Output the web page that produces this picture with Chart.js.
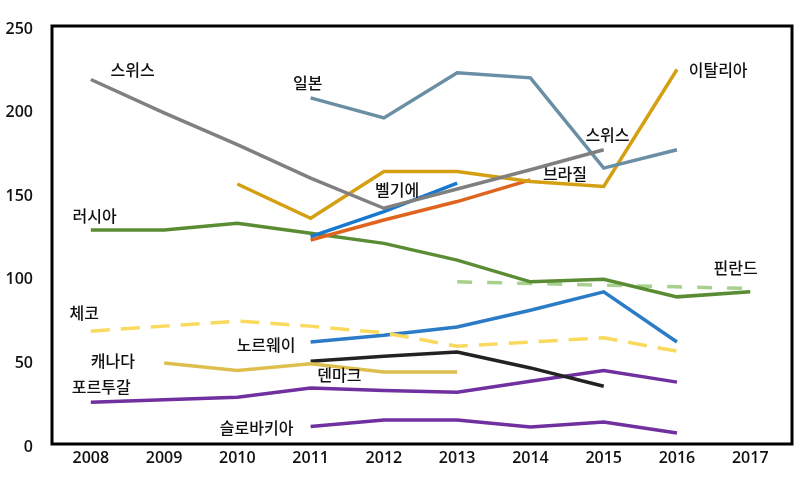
<!DOCTYPE html>
<html lang="ko">
<head>
<meta charset="utf-8">
<script src="https://cdn.jsdelivr.net/npm/chart.js@4.4.0/dist/chart.umd.min.js"></script>
<style>
  html, body { margin: 0; padding: 0; background: #fff; }
</style>
</head>
<body>
<canvas id="grafico" width="809" height="479"></canvas>
<script>
// Años (eje X) y ticks del eje Y
const anios = [2008, 2009, 2010, 2011, 2012, 2013, 2014, 2015, 2016, 2017];
const ticksY = [0, 50, 100, 150, 200, 250];

// Valores por país (null = sin dato)
const suiza      = [218, 198, 179, 159, 141, 152.5, 164, 176, null, null];
const japon      = [null, null, null, 207, 195, 222, 219, 165, 176, null];
const italia     = [null, null, 155.5, 135, 163, 163, 157, 154, 224, null];
const belgica    = [null, null, null, 124, 139, 156, null, null, null, null];
const brasil     = [null, null, null, 122, 134, 145, 158, null, null, null];
const rusia      = [128, 128, 132, 126, 120, 110, 97, 98.5, 88, 91];
const finlandia  = [null, null, null, null, null, 97, 96, 95, 94, 93];
const chequia    = [67.5, 70.5, 73.5, 70.5, 66.5, 58.5, 61, 63.5, 55.5, null];
const noruega    = [null, null, null, 61, 65, 70, 80, 91, 61, null];
const canada     = [null, 48.5, 44, 48, 43, 43, null, null, null, null];
const dinamarca  = [null, null, null, 49.5, 52.5, 55, 45.5, 34.5, null, null];
const portugal   = [25, 26.5, 28, 33.5, 32, 31, 37.5, 44, 37, null];
const eslovaquia = [null, null, null, 10.5, 14.3, 14.3, 10.2, 13.2, 6.6, null];

// Nombres que se escriben junto a las líneas, con su ancla [año, valor]
const etiquetas = [
  { texto: "스위스",     pos: [2008.27, 223.7] },
  { texto: "일본",       pos: [2010.76, 216] },
  { texto: "이탈리아",   pos: [2016.16, 224] },
  { texto: "스위스",     pos: [2014.75, 184.8] },
  { texto: "브라질",     pos: [2014.17, 161.5] },
  { texto: "벨기에",     pos: [2011.88, 152] },
  { texto: "러시아",     pos: [2007.75, 136.4] },
  { texto: "핀란드",     pos: [2016.5, 105.3] },
  { texto: "체코",       pos: [2007.71, 78.3] },
  { texto: "노르웨이",   pos: [2009.99, 59.2] },
  { texto: "캐나다",     pos: [2008.0, 49.6] },
  { texto: "덴마크",     pos: [2011.09, 41.3] },
  { texto: "포르투갈",   pos: [2007.74, 34.1] },
  { texto: "슬로바키아", pos: [2009.76, 9.6] }
];

function serie(valores, color, punteada) {
  return {
    data: anios.map((a, i) => ({ x: a, y: valores[i] })),
    borderColor: color,
    borderWidth: 3.5,
    borderDash: punteada ? punteada : [],
    spanGaps: true,
    pointRadius: 0,
    tension: 0,
    fill: false
  };
}

// Marco negro alrededor del área del gráfico
const marco = {
  id: "marco",
  afterDraw(chart) {
    const a = chart.chartArea;
    const c = chart.ctx;
    c.save();
    c.strokeStyle = "#000";
    c.lineWidth = 3;
    c.strokeRect(a.left, a.top, a.right - a.left, a.bottom - a.top);
    c.restore();
  }
};

// Texto de cada país
const nombres = {
  id: "nombres",
  afterDatasetsDraw(chart) {
    const c = chart.ctx;
    const sx = chart.scales.x;
    const sy = chart.scales.y;
    c.save();
    c.font = "500 16px 'Noto Sans CJK KR', sans-serif";
    c.fillStyle = "#111";
    c.textAlign = "left";
    c.textBaseline = "middle";
    etiquetas.forEach(e => {
      c.fillText(e.texto, sx.getPixelForValue(e.pos[0]), sy.getPixelForValue(e.pos[1]));
    });
    c.restore();
  }
};

const fuenteTicks = { family: "'Open Sans', 'Noto Sans', sans-serif", size: 16, weight: "600" };

new Chart(document.getElementById("grafico"), {
  type: "line",
  data: {
    datasets: [
      serie(suiza, "#808080"),
      serie(japon, "#6A8EA4"),
      serie(italia, "#D4A012"),
      serie(belgica, "#1878D0"),
      serie(brasil, "#DF651E"),
      serie(rusia, "#5A8C33"),
      serie(finlandia, "#A9D18E", [15, 15]),
      serie(chequia, "#FADA5E", [19, 11]),
      serie(noruega, "#2C7BC6"),
      serie(canada, "#DEBF4E"),
      serie(dinamarca, "#222222"),
      serie(portugal, "#7030A0"),
      serie(eslovaquia, "#7030A0")
    ]
  },
  options: {
    responsive: false,
    animation: false,
    layout: { padding: { top: 26, right: 17, left: 0, bottom: 0 } },
    plugins: { legend: { display: false }, tooltip: { enabled: false } },
    scales: {
      x: {
        type: "linear",
        min: 2007.47,
        max: 2017.57,
        grid: { display: false },
        border: { display: false },
        afterBuildTicks: s => { s.ticks = anios.map(v => ({ value: v })); },
        afterFit: s => { s.height = 35; },
        ticks: {
          autoSkip: false,
          padding: -3,
          color: "#111",
          font: fuenteTicks,
          callback: v => String(v)
        }
      },
      y: {
        min: 0,
        max: 250,
        grid: { display: false },
        border: { display: false },
        afterBuildTicks: s => { s.ticks = ticksY.map(v => ({ value: v })); },
        afterFit: s => { s.width = 52; },
        ticks: {
          padding: 11,
          labelOffset: 3,
          color: "#111",
          font: fuenteTicks
        }
      }
    }
  },
  plugins: [marco, nombres]
});
</script>
</body>
</html>
